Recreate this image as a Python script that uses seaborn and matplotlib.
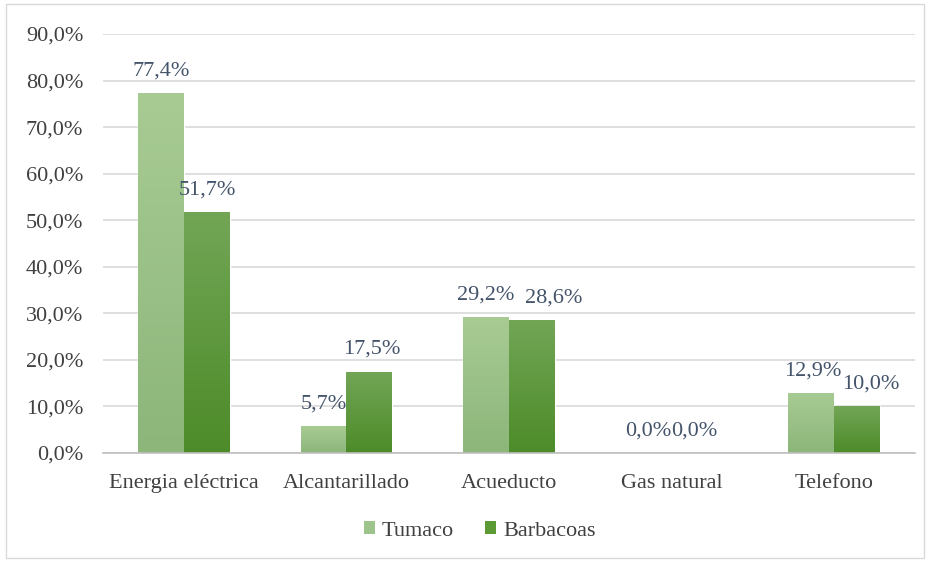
import matplotlib
matplotlib.use("Agg")
import matplotlib.pyplot as plt
import seaborn as sns
import pandas as pd
import numpy as np
from matplotlib.colors import LinearSegmentedColormap
from matplotlib.patches import Rectangle, Patch

categories = ["Energia eléctrica", "Alcantarillado", "Acueducto", "Gas natural", "Telefono"]
tumaco = [77.4, 5.7, 29.2, 0.0, 12.9]
barbacoas = [51.7, 17.5, 28.6, 0.0, 10.0]
series = ["Tumaco", "Barbacoas"]
yticks = [0, 10, 20, 30, 40, 50, 60, 70, 80, 90]

df = pd.DataFrame({
    "cat": categories * 2,
    "val": tumaco + barbacoas,
    "serie": [series[0]] * len(categories) + [series[1]] * len(categories),
})

sns.set_theme(style="white")
plt.rcParams['font.family'] = ['Liberation Serif', 'DejaVu Serif']

FS = 16
fig = plt.figure(figsize=(9.3, 5.63), dpi=100)
ax = fig.add_axes([0.1105, 0.1954, 0.8735, 0.7442])

palette = {"Tumaco": "#9dc48a", "Barbacoas": "#5c9a36"}
sns.barplot(data=df, x="cat", y="val", hue="serie", palette=palette,
            width=0.565, ax=ax, saturation=1, legend=False, gap=0)

# horizontal nudges (points) that the original chart applied to avoid label collisions
label_dx = {"Tumaco": [0, 0, 0, 0, 1], "Barbacoas": [0, 2, 16, 0, 10]}

grads = {"Tumaco": ("#a8cb94", "#8cb67a"), "Barbacoas": ("#72a656", "#4d8b29")}
for cont, name in zip(ax.containers, series):
    cmap = LinearSegmentedColormap.from_list(name, [grads[name][1], grads[name][0]])
    for i, bar in enumerate(cont):
        x0, y0 = bar.get_x(), bar.get_y()
        w, h = bar.get_width(), bar.get_height()
        if h > 0:
            grad = np.linspace(0, 1, 256).reshape(-1, 1)
            im = ax.imshow(grad, extent=[x0, x0 + w, y0, y0 + h], origin="lower",
                           aspect="auto", cmap=cmap, zorder=bar.get_zorder() + 0.1)
            im.set_clip_path(bar)
        v = cont.datavalues[i]
        ax.annotate(f"{v:.1f}%".replace(".", ","), (x0 + w / 2, y0 + h),
                    xytext=(label_dx[name][i], 9), textcoords="offset points",
                    ha="center", va="bottom", fontsize=FS, color="#44546a")

ax.set_xlim(-0.5, len(categories) - 0.5)
ax.set_ylim(0, 90)
ax.set_yticks(yticks)
ax.set_yticklabels([f"{t:.1f}%".replace(".", ",") for t in yticks])
ax.yaxis.grid(True, color="#d9d9d9", linewidth=1.2)
ax.set_axisbelow(True)
for s in ["top", "right", "left"]:
    ax.spines[s].set_visible(False)
ax.spines["bottom"].set_color("#bfbfbf")
ax.spines["bottom"].set_linewidth(1.2)
ax.set_xlabel("")
ax.set_ylabel("")
ax.tick_params(axis="both", length=0, labelsize=FS, colors="#404040")
ax.tick_params(axis="y", pad=14)
ax.tick_params(axis="x", pad=15)

handles = [Patch(facecolor=palette[s], edgecolor="none") for s in series]
fig.legend(handles, series, loc="center", bbox_to_anchor=(0.516, 0.057), ncol=2,
           frameon=False, fontsize=FS, handlelength=0.5, handleheight=0.5,
           handletextpad=0.3, columnspacing=1.4, labelcolor="#404040")

fig.patches.append(Rectangle((0.006, 0.008), 0.988, 0.985, transform=fig.transFigure,
                             fill=False, edgecolor="#d9d9d9", linewidth=1))

fig.savefig("out.png", dpi=100)
